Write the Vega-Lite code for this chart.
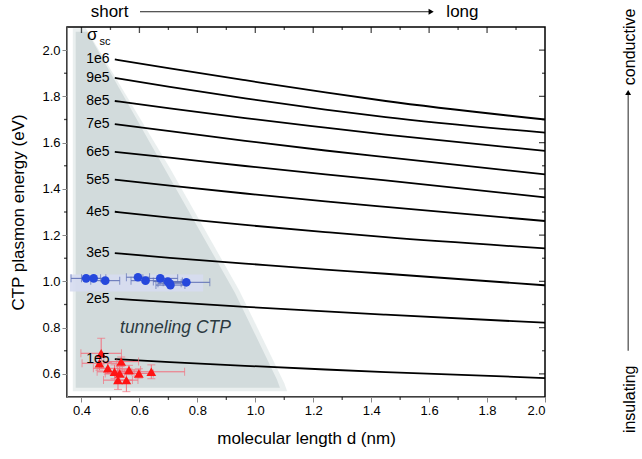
{
  "$schema": "https://vega.github.io/schema/vega-lite/v6.json",
  "width": 478,
  "height": 370,
  "autosize": {"type": "none"},
  "padding": {"left": 67, "top": 27, "right": 97, "bottom": 62},
  "background": "white",
  "config": {"view": {"stroke": "#000", "strokeWidth": 1.5}},
  "datasets": {
    "curves": [
      {"s": "1e6", "x": 0.515, "y": 1.960}, {"s": "1e6", "x": 0.705, "y": 1.921}, {"s": "1e6", "x": 0.965, "y": 1.870}, {"s": "1e6", "x": 1.242, "y": 1.817}, {"s": "1e6", "x": 1.45, "y": 1.780}, {"s": "1e6", "x": 2.0, "y": 1.700},
      {"s": "9e5", "x": 0.515, "y": 1.880}, {"s": "9e5", "x": 0.705, "y": 1.841}, {"s": "9e5", "x": 0.965, "y": 1.791}, {"s": "9e5", "x": 1.242, "y": 1.743}, {"s": "9e5", "x": 1.45, "y": 1.710}, {"s": "9e5", "x": 2.0, "y": 1.643},
      {"s": "8e5", "x": 0.515, "y": 1.780}, {"s": "8e5", "x": 0.705, "y": 1.748}, {"s": "8e5", "x": 0.965, "y": 1.706}, {"s": "8e5", "x": 1.242, "y": 1.665}, {"s": "8e5", "x": 1.45, "y": 1.635}, {"s": "8e5", "x": 2.0, "y": 1.564},
      {"s": "7e5", "x": 0.515, "y": 1.680}, {"s": "7e5", "x": 0.705, "y": 1.650}, {"s": "7e5", "x": 0.965, "y": 1.608}, {"s": "7e5", "x": 1.242, "y": 1.566}, {"s": "7e5", "x": 1.45, "y": 1.537}, {"s": "7e5", "x": 2.0, "y": 1.463},
      {"s": "6e5", "x": 0.515, "y": 1.560}, {"s": "6e5", "x": 0.705, "y": 1.535}, {"s": "6e5", "x": 0.965, "y": 1.499}, {"s": "6e5", "x": 1.242, "y": 1.463}, {"s": "6e5", "x": 1.45, "y": 1.437}, {"s": "6e5", "x": 2.0, "y": 1.363},
      {"s": "5e5", "x": 0.515, "y": 1.440}, {"s": "5e5", "x": 0.705, "y": 1.414}, {"s": "5e5", "x": 0.965, "y": 1.380}, {"s": "5e5", "x": 1.242, "y": 1.346}, {"s": "5e5", "x": 1.45, "y": 1.322}, {"s": "5e5", "x": 2.0, "y": 1.261},
      {"s": "4e5", "x": 0.515, "y": 1.301}, {"s": "4e5", "x": 0.705, "y": 1.276}, {"s": "4e5", "x": 0.965, "y": 1.244}, {"s": "4e5", "x": 1.242, "y": 1.213}, {"s": "4e5", "x": 1.45, "y": 1.191}, {"s": "4e5", "x": 2.0, "y": 1.143},
      {"s": "3e5", "x": 0.515, "y": 1.122}, {"s": "3e5", "x": 0.705, "y": 1.102}, {"s": "3e5", "x": 0.965, "y": 1.077}, {"s": "3e5", "x": 1.242, "y": 1.051}, {"s": "3e5", "x": 1.45, "y": 1.033}, {"s": "3e5", "x": 2.0, "y": 0.983},
      {"s": "2e5", "x": 0.515, "y": 0.925}, {"s": "2e5", "x": 0.705, "y": 0.910}, {"s": "2e5", "x": 0.965, "y": 0.890}, {"s": "2e5", "x": 1.242, "y": 0.870}, {"s": "2e5", "x": 1.45, "y": 0.856}, {"s": "2e5", "x": 2.0, "y": 0.821},
      {"s": "1e5", "x": 0.515, "y": 0.664}, {"s": "1e5", "x": 0.705, "y": 0.651}, {"s": "1e5", "x": 0.965, "y": 0.635}, {"s": "1e5", "x": 1.242, "y": 0.619}, {"s": "1e5", "x": 1.45, "y": 0.608}, {"s": "1e5", "x": 2.0, "y": 0.582}
    ],
    "labels": [
      {"t": "1e6", "x": 0.497, "y": 1.960}, {"t": "9e5", "x": 0.497, "y": 1.880}, {"t": "8e5", "x": 0.497, "y": 1.780},
      {"t": "7e5", "x": 0.497, "y": 1.680}, {"t": "6e5", "x": 0.497, "y": 1.560}, {"t": "5e5", "x": 0.497, "y": 1.440},
      {"t": "4e5", "x": 0.497, "y": 1.301}, {"t": "3e5", "x": 0.497, "y": 1.122}, {"t": "2e5", "x": 0.497, "y": 0.925},
      {"t": "1e5", "x": 0.497, "y": 0.664}
    ],
    "edgeTicks": [
      {"side": "bottom", "k": "minor", "x": 0.5, "y": 0.5}, {"side": "bottom", "k": "minor", "x": 0.7, "y": 0.5}, {"side": "bottom", "k": "minor", "x": 0.9, "y": 0.5}, {"side": "bottom", "k": "minor", "x": 1.1, "y": 0.5},
      {"side": "bottom", "k": "minor", "x": 1.3, "y": 0.5}, {"side": "bottom", "k": "minor", "x": 1.5, "y": 0.5}, {"side": "bottom", "k": "minor", "x": 1.7, "y": 0.5}, {"side": "bottom", "k": "minor", "x": 1.9, "y": 0.5},
      {"side": "top", "k": "major", "x": 0.4, "y": 2.1}, {"side": "top", "k": "major", "x": 0.6, "y": 2.1}, {"side": "top", "k": "major", "x": 0.8, "y": 2.1}, {"side": "top", "k": "major", "x": 1.0, "y": 2.1},
      {"side": "top", "k": "major", "x": 1.2, "y": 2.1}, {"side": "top", "k": "major", "x": 1.4, "y": 2.1}, {"side": "top", "k": "major", "x": 1.6, "y": 2.1}, {"side": "top", "k": "major", "x": 1.8, "y": 2.1},
      {"side": "top", "k": "minor", "x": 0.5, "y": 2.1}, {"side": "top", "k": "minor", "x": 0.7, "y": 2.1}, {"side": "top", "k": "minor", "x": 0.9, "y": 2.1}, {"side": "top", "k": "minor", "x": 1.1, "y": 2.1},
      {"side": "top", "k": "minor", "x": 1.3, "y": 2.1}, {"side": "top", "k": "minor", "x": 1.5, "y": 2.1}, {"side": "top", "k": "minor", "x": 1.7, "y": 2.1}, {"side": "top", "k": "minor", "x": 1.9, "y": 2.1},
      {"side": "left", "k": "minor", "x": 0.35, "y": 0.7}, {"side": "left", "k": "minor", "x": 0.35, "y": 0.9}, {"side": "left", "k": "minor", "x": 0.35, "y": 1.1}, {"side": "left", "k": "minor", "x": 0.35, "y": 1.3},
      {"side": "left", "k": "minor", "x": 0.35, "y": 1.5}, {"side": "left", "k": "minor", "x": 0.35, "y": 1.7}, {"side": "left", "k": "minor", "x": 0.35, "y": 1.9},
      {"side": "right", "k": "major", "x": 2.0, "y": 0.6}, {"side": "right", "k": "major", "x": 2.0, "y": 0.8}, {"side": "right", "k": "major", "x": 2.0, "y": 1.0}, {"side": "right", "k": "major", "x": 2.0, "y": 1.2},
      {"side": "right", "k": "major", "x": 2.0, "y": 1.4}, {"side": "right", "k": "major", "x": 2.0, "y": 1.6}, {"side": "right", "k": "major", "x": 2.0, "y": 1.8}, {"side": "right", "k": "major", "x": 2.0, "y": 2.0},
      {"side": "right", "k": "minor", "x": 2.0, "y": 0.7}, {"side": "right", "k": "minor", "x": 2.0, "y": 0.9}, {"side": "right", "k": "minor", "x": 2.0, "y": 1.1}, {"side": "right", "k": "minor", "x": 2.0, "y": 1.3},
      {"side": "right", "k": "minor", "x": 2.0, "y": 1.5}, {"side": "right", "k": "minor", "x": 2.0, "y": 1.7}, {"side": "right", "k": "minor", "x": 2.0, "y": 1.9}
    ],
    "shadeOuter": [
      {"x": 0.37, "y": 2.095, "y0": 0.525}, {"x": 0.415, "y": 2.095, "y0": 0.525}, {"x": 0.705, "y": 1.49, "y0": 0.525},
      {"x": 0.945, "y": 0.96, "y0": 0.525}, {"x": 1.10, "y": 0.56, "y0": 0.525}, {"x": 1.11, "y": 0.525, "y0": 0.525}
    ],
    "shadeInner": [
      {"x": 0.38, "y": 2.08, "y0": 0.54}, {"x": 0.42, "y": 2.08, "y0": 0.54}, {"x": 0.695, "y": 1.47, "y0": 0.54},
      {"x": 0.93, "y": 0.95, "y0": 0.54}, {"x": 1.075, "y": 0.575, "y0": 0.54}, {"x": 1.085, "y": 0.54, "y0": 0.54}
    ],
    "blue": [
      {"x": 0.416, "y": 1.013}, {"x": 0.442, "y": 1.013}, {"x": 0.482, "y": 1.003}, {"x": 0.595, "y": 1.018}, {"x": 0.621, "y": 1.003},
      {"x": 0.672, "y": 1.013}, {"x": 0.698, "y": 0.999}, {"x": 0.704, "y": 0.992}, {"x": 0.707, "y": 0.984}, {"x": 0.762, "y": 0.996}
    ],
    "blueXerr": [
      {"x": 0.364, "x2": 0.466, "y": 1.013}, {"x": 0.400, "x2": 0.484, "y": 1.013}, {"x": 0.432, "x2": 0.532, "y": 1.003}, {"x": 0.555, "x2": 0.635, "y": 1.018}, {"x": 0.571, "x2": 0.671, "y": 1.003},
      {"x": 0.612, "x2": 0.732, "y": 1.013}, {"x": 0.648, "x2": 0.748, "y": 0.999}, {"x": 0.664, "x2": 0.744, "y": 0.992}, {"x": 0.657, "x2": 0.757, "y": 0.984}, {"x": 0.682, "x2": 0.843, "y": 0.996}
    ],
    "blueXcaps": [
      {"x": 0.364, "y": 1.013}, {"x": 0.466, "y": 1.013}, {"x": 0.400, "y": 1.013}, {"x": 0.484, "y": 1.013}, {"x": 0.432, "y": 1.003}, {"x": 0.532, "y": 1.003},
      {"x": 0.555, "y": 1.018}, {"x": 0.635, "y": 1.018}, {"x": 0.571, "y": 1.003}, {"x": 0.671, "y": 1.003}, {"x": 0.612, "y": 1.013}, {"x": 0.732, "y": 1.013},
      {"x": 0.648, "y": 0.999}, {"x": 0.748, "y": 0.999}, {"x": 0.664, "y": 0.992}, {"x": 0.744, "y": 0.992}, {"x": 0.657, "y": 0.984}, {"x": 0.757, "y": 0.984},
      {"x": 0.682, "y": 0.996}, {"x": 0.843, "y": 0.996}
    ],
    "blueYerr": [
      {"x": 0.416, "y": 1.003, "y2": 1.023}, {"x": 0.442, "y": 1.003, "y2": 1.023}, {"x": 0.482, "y": 0.993, "y2": 1.013}, {"x": 0.595, "y": 1.008, "y2": 1.028}, {"x": 0.621, "y": 0.993, "y2": 1.013},
      {"x": 0.672, "y": 1.003, "y2": 1.023}, {"x": 0.698, "y": 0.989, "y2": 1.009}, {"x": 0.704, "y": 0.982, "y2": 1.002}, {"x": 0.707, "y": 0.974, "y2": 0.994}, {"x": 0.762, "y": 0.986, "y2": 1.006}
    ],
    "red": [
      {"x": 0.468, "y": 0.689}, {"x": 0.462, "y": 0.646}, {"x": 0.491, "y": 0.624}, {"x": 0.514, "y": 0.609}, {"x": 0.537, "y": 0.653}, {"x": 0.532, "y": 0.602},
      {"x": 0.564, "y": 0.617}, {"x": 0.526, "y": 0.573}, {"x": 0.555, "y": 0.573}, {"x": 0.598, "y": 0.602}, {"x": 0.641, "y": 0.609}
    ],
    "redXerr": [
      {"x": 0.398, "x2": 0.538, "y": 0.689}, {"x": 0.402, "x2": 0.522, "y": 0.646}, {"x": 0.441, "x2": 0.541, "y": 0.624}, {"x": 0.454, "x2": 0.574, "y": 0.609},
      {"x": 0.477, "x2": 0.597, "y": 0.653}, {"x": 0.482, "x2": 0.582, "y": 0.602}, {"x": 0.524, "x2": 0.604, "y": 0.617}, {"x": 0.476, "x2": 0.576, "y": 0.573},
      {"x": 0.515, "x2": 0.595, "y": 0.573}, {"x": 0.548, "x2": 0.648, "y": 0.602}, {"x": 0.526, "x2": 0.756, "y": 0.609}
    ],
    "redXcaps": [
      {"x": 0.398, "y": 0.689}, {"x": 0.538, "y": 0.689}, {"x": 0.402, "y": 0.646}, {"x": 0.522, "y": 0.646}, {"x": 0.441, "y": 0.624}, {"x": 0.541, "y": 0.624},
      {"x": 0.454, "y": 0.609}, {"x": 0.574, "y": 0.609}, {"x": 0.477, "y": 0.653}, {"x": 0.597, "y": 0.653}, {"x": 0.482, "y": 0.602}, {"x": 0.582, "y": 0.602},
      {"x": 0.524, "y": 0.617}, {"x": 0.604, "y": 0.617}, {"x": 0.476, "y": 0.573}, {"x": 0.576, "y": 0.573}, {"x": 0.515, "y": 0.573}, {"x": 0.595, "y": 0.573},
      {"x": 0.548, "y": 0.602}, {"x": 0.648, "y": 0.602}, {"x": 0.526, "y": 0.609}, {"x": 0.756, "y": 0.609}
    ],
    "redYerr": [
      {"x": 0.468, "y": 0.624, "y2": 0.754}, {"x": 0.462, "y": 0.616, "y2": 0.676}, {"x": 0.491, "y": 0.599, "y2": 0.649}, {"x": 0.514, "y": 0.579, "y2": 0.639},
      {"x": 0.537, "y": 0.633, "y2": 0.673}, {"x": 0.532, "y": 0.572, "y2": 0.632}, {"x": 0.564, "y": 0.597, "y2": 0.637}, {"x": 0.526, "y": 0.533, "y2": 0.613},
      {"x": 0.555, "y": 0.523, "y2": 0.623}, {"x": 0.598, "y": 0.582, "y2": 0.622}, {"x": 0.641, "y": 0.579, "y2": 0.639}
    ],
    "redYcaps": [
      {"x": 0.468, "y": 0.624}, {"x": 0.468, "y": 0.754}, {"x": 0.462, "y": 0.616}, {"x": 0.462, "y": 0.676}, {"x": 0.491, "y": 0.599}, {"x": 0.491, "y": 0.649},
      {"x": 0.514, "y": 0.579}, {"x": 0.514, "y": 0.639}, {"x": 0.537, "y": 0.633}, {"x": 0.537, "y": 0.673}, {"x": 0.532, "y": 0.572}, {"x": 0.532, "y": 0.632},
      {"x": 0.564, "y": 0.597}, {"x": 0.564, "y": 0.637}, {"x": 0.526, "y": 0.533}, {"x": 0.526, "y": 0.613}, {"x": 0.555, "y": 0.523}, {"x": 0.555, "y": 0.623},
      {"x": 0.598, "y": 0.582}, {"x": 0.598, "y": 0.622}, {"x": 0.641, "y": 0.579}, {"x": 0.641, "y": 0.639}
    ]
  },
  "encoding": {
    "x": {"field": "x", "type": "quantitative", "scale": {"domain": [0.35, 2.0], "nice": false, "zero": false},
      "axis": {"tickCount": 9, "grid": false, "labelFontSize": 13, "title": "molecular length d (nm)", "titleFontSize": 17, "titleFontWeight": "normal", "titlePadding": 13}},
    "y": {"field": "y", "type": "quantitative", "scale": {"domain": [0.5, 2.1], "nice": false, "zero": false},
      "axis": {"tickCount": 8, "grid": false, "labelFontSize": 13, "title": "CTP plasmon energy (eV)", "titleFontSize": 17, "titleFontWeight": "normal", "titlePadding": 14}}
  },
  "layer": [
    {"data": {"name": "shadeOuter"}, "mark": {"type": "area", "color": "#d9e1e1", "opacity": 0.55}, "encoding": {"y2": {"field": "y0"}}},
    {"data": {"name": "shadeInner"}, "mark": {"type": "area", "color": "#d2dbdc"}, "encoding": {"y2": {"field": "y0"}}},
    {"data": {"values": [{"x": 0.36, "x2": 0.82, "y": 0.956, "y2": 1.03}]}, "mark": {"type": "rect", "color": "#d6dcef", "opacity": 0.9}, "encoding": {"x2": {"field": "x2"}, "y2": {"field": "y2"}}},
    {"data": {"name": "curves"}, "mark": {"type": "line", "color": "#000", "strokeWidth": 1.8, "interpolate": "monotone"}, "encoding": {"detail": {"field": "s"}}},
    {"data": {"name": "edgeTicks"}, "transform": [{"filter": "datum.side == 'bottom'"}], "mark": {"type": "tick", "orient": "vertical", "color": "#000", "size": 3, "thickness": 1.3, "yOffset": 1.5}},
    {"data": {"name": "edgeTicks"}, "transform": [{"filter": "datum.side == 'top' && datum.k == 'major'"}], "mark": {"type": "tick", "orient": "vertical", "color": "#000", "size": 6, "thickness": 1.3, "yOffset": 3}},
    {"data": {"name": "edgeTicks"}, "transform": [{"filter": "datum.side == 'top' && datum.k == 'minor'"}], "mark": {"type": "tick", "orient": "vertical", "color": "#000", "size": 3, "thickness": 1.3, "yOffset": 1.5}},
    {"data": {"name": "edgeTicks"}, "transform": [{"filter": "datum.side == 'left'"}], "mark": {"type": "tick", "orient": "horizontal", "color": "#000", "size": 3, "thickness": 1.3, "xOffset": -1.5}},
    {"data": {"name": "edgeTicks"}, "transform": [{"filter": "datum.side == 'right' && datum.k == 'major'"}], "mark": {"type": "tick", "orient": "horizontal", "color": "#000", "size": 6, "thickness": 1.3, "xOffset": -3}},
    {"data": {"name": "edgeTicks"}, "transform": [{"filter": "datum.side == 'right' && datum.k == 'minor'"}], "mark": {"type": "tick", "orient": "horizontal", "color": "#000", "size": 3, "thickness": 1.3, "xOffset": -1.5}},
    {"data": {"name": "blueXerr"}, "mark": {"type": "rule", "color": "#5d6fb5", "strokeWidth": 1}, "encoding": {"x2": {"field": "x2"}}},
    {"data": {"name": "blueYerr"}, "mark": {"type": "rule", "color": "#5d6fb5", "strokeWidth": 1}, "encoding": {"y2": {"field": "y2"}}},
    {"data": {"name": "blueXcaps"}, "mark": {"type": "tick", "orient": "vertical", "color": "#5d6fb5", "size": 8, "thickness": 1}},
    {"data": {"name": "blue"}, "mark": {"type": "point", "shape": "circle", "filled": true, "color": "#2648dc", "size": 75, "opacity": 1}},
    {"data": {"name": "redXerr"}, "mark": {"type": "rule", "color": "#f2707e", "strokeWidth": 1}, "encoding": {"x2": {"field": "x2"}}},
    {"data": {"name": "redYerr"}, "mark": {"type": "rule", "color": "#f2707e", "strokeWidth": 1}, "encoding": {"y2": {"field": "y2"}}},
    {"data": {"name": "redXcaps"}, "mark": {"type": "tick", "orient": "vertical", "color": "#f2707e", "size": 8, "thickness": 1}},
    {"data": {"name": "redYcaps"}, "mark": {"type": "tick", "orient": "horizontal", "color": "#f2707e", "size": 8, "thickness": 1}},
    {"data": {"name": "red"}, "mark": {"type": "point", "shape": "triangle-up", "filled": true, "color": "#ff1414", "size": 95, "opacity": 1}},
    {"data": {"name": "labels"}, "mark": {"type": "text", "align": "right", "baseline": "middle", "fontSize": 14, "color": "#000", "font": "Liberation Sans"}, "encoding": {"text": {"field": "t"}}},
    {"data": {"values": [{"x": 0.419, "y": 2.042, "t": "σ"}]}, "mark": {"type": "text", "align": "left", "baseline": "alphabetic", "fontSize": 17, "color": "#000", "font": "Liberation Sans"}, "encoding": {"text": {"field": "t"}}},
    {"data": {"values": [{"x": 0.462, "y": 2.021, "t": "sc"}]}, "mark": {"type": "text", "align": "left", "baseline": "alphabetic", "fontSize": 11, "color": "#000", "font": "Liberation Sans"}, "encoding": {"text": {"field": "t"}}},
    {"data": {"values": [{"x": 0.533, "y": 0.798, "t": "tunneling CTP"}]}, "mark": {"type": "text", "align": "left", "baseline": "middle", "fontSize": 17.5, "fontStyle": "italic", "color": "#2b3a40", "font": "Liberation Sans"}, "encoding": {"text": {"field": "t"}}},
    {"data": {"values": [{"x": 0.497, "y": 2.166, "t": "short"}, {"x": 1.715, "y": 2.166, "t": "long"}]}, "mark": {"type": "text", "align": "center", "baseline": "middle", "fontSize": 17, "color": "#000", "font": "Liberation Sans"}, "encoding": {"text": {"field": "t"}}},
    {"data": {"values": [{"x": 0.602, "x2": 1.60, "y": 2.166}]}, "mark": {"type": "rule", "color": "#222", "strokeWidth": 1}, "encoding": {"x2": {"field": "x2"}}},
    {"data": {"values": [{"x": 1.607, "y": 2.166}]}, "mark": {"type": "point", "shape": "triangle-right", "filled": true, "color": "#000", "size": 35, "opacity": 1}},
    {"data": {"values": [{"x": 2.293, "y": 0.49, "t": "insulating"}, {"x": 2.293, "y": 2.014, "t": "conductive"}]}, "mark": {"type": "text", "align": "center", "baseline": "middle", "fontSize": 16, "angle": 270, "color": "#000", "font": "Liberation Sans"}, "encoding": {"text": {"field": "t"}}},
    {"data": {"values": [{"x": 2.287, "y": 0.70, "y2": 1.81}]}, "mark": {"type": "rule", "color": "#222", "strokeWidth": 1}, "encoding": {"y2": {"field": "y2"}}},
    {"data": {"values": [{"x": 2.287, "y": 1.817}]}, "mark": {"type": "point", "shape": "triangle-up", "filled": true, "color": "#000", "size": 35, "opacity": 1}}
  ]
}
